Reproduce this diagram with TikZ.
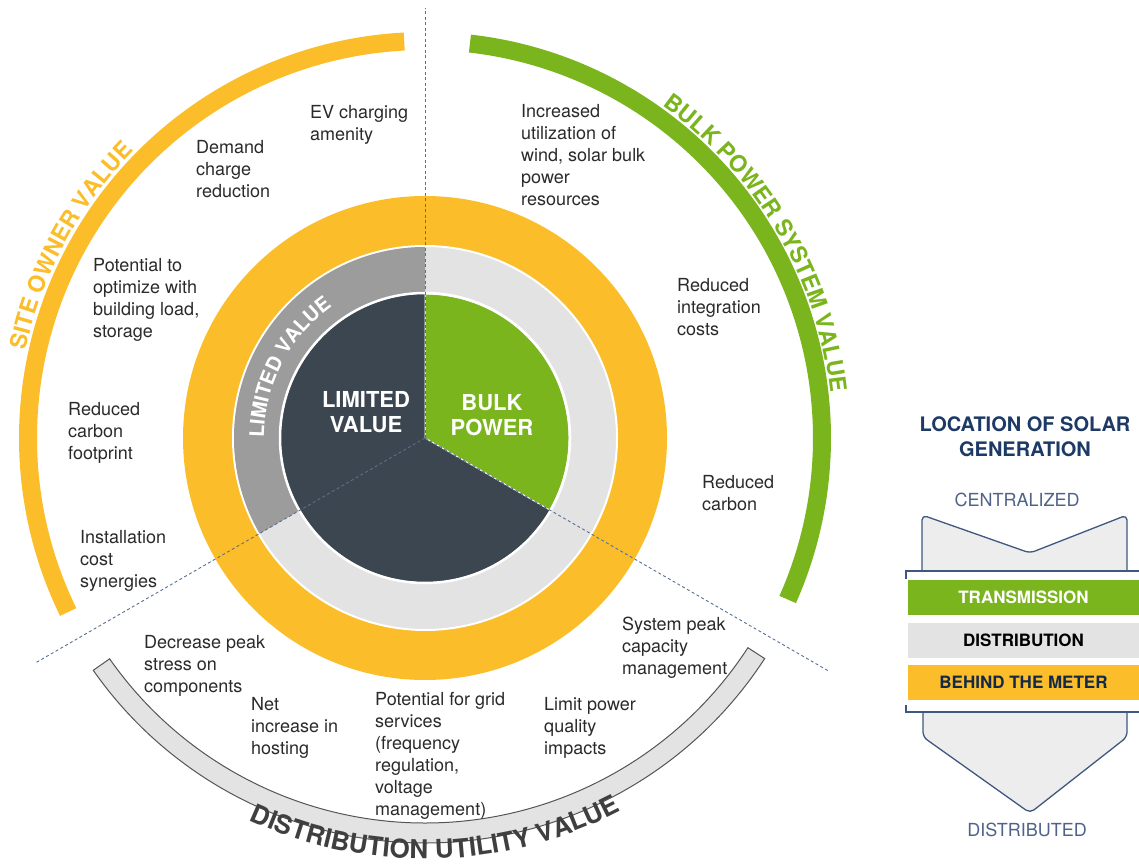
\documentclass[tikz,border=0pt]{standalone}
\usepackage{fontspec}
\setmainfont{TeX Gyre Heros}
\usepackage{tikz}
\usetikzlibrary{decorations.text}
\definecolor{sunyellow}{HTML}{FBBE2A}
\definecolor{bulkgreen}{HTML}{7AB51D}
\definecolor{slate}{HTML}{3B4650}
\definecolor{midgray}{HTML}{9C9C9C}
\definecolor{palegray}{HTML}{E3E3E3}
\definecolor{chevfill}{HTML}{EDEDED}
\definecolor{inkgray}{HTML}{2A2A2A}
\definecolor{navy}{HTML}{1D3A66}
\definecolor{steel}{HTML}{4F6288}
\definecolor{guide}{HTML}{5B6E8F}
\tikzset{
  benefit/.style={anchor=north west,inner sep=0pt,align=left,text=inkgray,font=\fontsize{18}{22}\selectfont},
  core/.style={text=white,align=center,inner sep=0pt,font=\bfseries\fontsize{22}{25}\selectfont},
  band/.style={line width=18pt,draw=#1},
  divider/.style={draw=guide,line width=0.9pt,dash pattern=on 3pt off 2.5pt},
  level/.style={rectangle,fill=#1,minimum width=231pt,minimum height=35pt,inner sep=0pt,
    font=\bfseries\fontsize{17}{17}\selectfont},
  chevron/.style={fill=chevfill,draw=navy!85,line width=1.3pt,rounded corners=5pt,line join=round},
  frameline/.style={draw=navy!85,line width=1.3pt},
  endlabel/.style={text=steel,font=\fontsize{18}{18}\selectfont},
  arclabel/.style 2 args={decorate,decoration={text along path,text align=center,
    text color=#1,text={#2}}}
}

\begin{document}
\begin{tikzpicture}[x=1pt,y=1pt]
\useasboundingbox (0,0) rectangle (1139,863);
\coordinate (hub) at (425,425);

% rings
\fill[sunyellow] (hub) circle[radius=242];
\fill[palegray] (hub) circle[radius=192];
\draw[white,line width=2pt] (hub) circle[radius=192];
\fill[midgray] (hub) -- ++(90:191) arc[start angle=90,end angle=210,radius=191] -- cycle;
\fill[slate] (hub) circle[radius=144];
\filldraw[fill=bulkgreen,draw=white,line width=1pt] (hub) -- ++(-30:144) arc[start angle=-30,end angle=90,radius=144] -- cycle;
\draw[white,line width=2.5pt] (hub) circle[radius=145];

\draw[divider] (hub) -- ++(90:430);
\draw[divider] (hub) -- ++(210:450);
\draw[divider] (hub) -- ++(330:465);

\path[arclabel={white}{|\bfseries\fontsize{20}{20}\selectfont|LIMITED VALUE}]
  (hub) ++(192.5:161) arc[start angle=192.5,end angle=112.5,radius=161];

\node[core] (limited) at (366,451) {LIMITED\\VALUE};
\node[core] (bulk) at (492,448) {BULK\\POWER};

% outer value arcs
\draw[band=sunyellow] (hub) ++(93:397) arc[start angle=93,end angle=206,radius=397];
\draw[band=bulkgreen] (hub) ++(83.5:397) arc[start angle=83.5,end angle=-24,radius=397];
\filldraw[fill=palegray,draw=inkgray!80,line width=1pt] (hub) ++(215:385) arc[start angle=215,end angle=327,radius=385]
  -- ++(327:20) arc[start angle=327,end angle=215,radius=405] -- cycle;

\path[arclabel={sunyellow}{|\bfseries\fontsize{23}{23}\selectfont|SITE OWNER VALUE}]
  (hub) ++(181.5:409) arc[start angle=181.5,end angle=121.5,radius=409];
\path[arclabel={bulkgreen}{|\bfseries\fontsize{23}{23}\selectfont|BULK POWER SYSTEM VALUE}]
  (hub) ++(65.4:408) arc[start angle=65.4,end angle=-4.6,radius=408];
\path[arclabel={inkgray!90}{|\bfseries\fontsize{26}{26}\selectfont|DISTRIBUTION UTILITY VALUE}]
  (hub) ++(236.5:421) arc[start angle=236.5,end angle=306.5,radius=421];

% benefits
\node[benefit] (ev) at (310,758) {EV charging\\amenity};
\node[benefit] (demand) at (196,723) {Demand\\charge\\reduction};
\node[benefit] (optimize) at (93,605) {Potential to\\optimize with\\building load,\\storage};
\node[benefit] (footprint) at (68,461) {Reduced\\carbon\\footprint};
\node[benefit] (install) at (80,333) {Installation\\cost\\synergies};
\node[benefit] (wind) at (521,759) {Increased\\utilization of\\wind, solar bulk\\power\\resources};
\node[benefit] (integration) at (677,585) {Reduced\\integration\\costs};
\node[benefit] (carbon) at (702,388) {Reduced\\carbon};
\node[benefit] (syspeak) at (622,246) {System peak\\capacity\\management};
\node[benefit] (stress) at (144,228) {Decrease peak\\stress on\\components};
\node[benefit] (hosting) at (251,166) {Net\\increase in\\hosting};
\node[benefit] (grid) at (375,171) {Potential for grid\\services\\(frequency\\regulation,\\voltage\\management)};
\node[benefit] (quality) at (544,166) {Limit power\\quality\\impacts};

% location legend
\node[text=navy,align=center,font=\bfseries\fontsize{20}{25}\selectfont] (loctitle) at (1025,426) {LOCATION OF SOLAR\\GENERATION};
\node[endlabel] (central) at (1017,363) {CENTRALIZED};
\node[endlabel] (distrib) at (1027,33) {DISTRIBUTED};

\filldraw[chevron] (922,292) -- (922,348) -- (1030,310) -- (1127,348) -- (1127,292);
\filldraw[chevron] (923,151) -- (923,126) -- (1030,50) -- (1127,126) -- (1127,151);
\fill[white] (906,151) rectangle (1139,292);
\draw[frameline] (906,284) -- (906,292) -- (1139,292);
\draw[frameline] (906,158) -- (906,151) -- (1139,151);

\node[level=bulkgreen,text=white] (trans) at (1023.5,265.5) {TRANSMISSION};
\node[level=palegray,text=black] (dist) at (1023.5,223) {DISTRIBUTION};
\node[level=sunyellow,text=navy!70!black] (meter) at (1023.5,180.5) {BEHIND THE METER};
\end{tikzpicture}
\end{document}
